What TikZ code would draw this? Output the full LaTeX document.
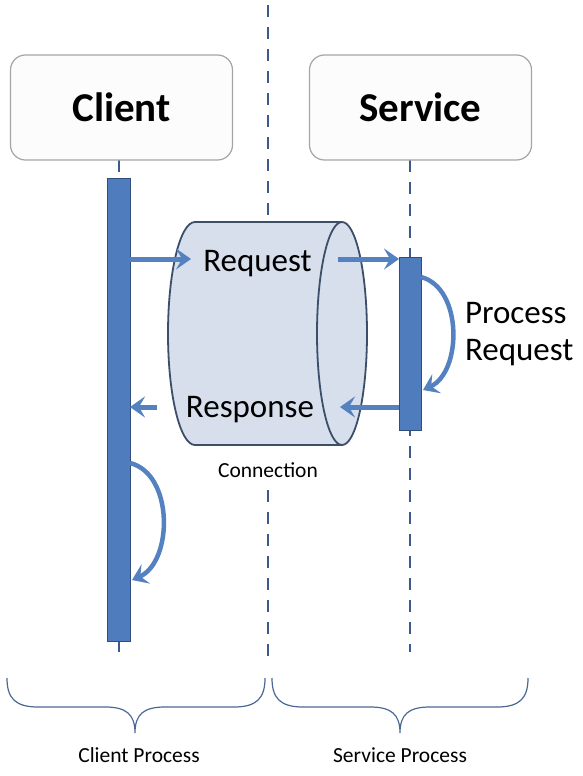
\documentclass[tikz,border=0pt]{standalone}
\usepackage{fontspec}
\setmainfont{Carlito}
\usetikzlibrary{arrows.meta}
\definecolor{barblue}{RGB}{79,124,189}
\definecolor{bardark}{RGB}{47,78,125}
\definecolor{arrblue}{RGB}{84,130,192}
\definecolor{dashblue}{RGB}{60,90,140}
\definecolor{boxgray}{RGB}{165,165,165}
\definecolor{boxfill}{RGB}{252,252,252}
\definecolor{cylfill}{RGB}{214,223,235}
\definecolor{cylline}{RGB}{60,78,105}
\definecolor{bracecol}{RGB}{75,105,150}
\pgfdeclarelayer{bg}
\pgfsetlayers{bg,main}
\begin{document}
\begin{tikzpicture}[x=1pt,y=1pt,
 every node/.style={inner sep=0pt, outer sep=0pt},
 titlebox/.style={draw=boxgray, fill=boxfill, line width=1.2pt, rounded corners=15pt, minimum width=222pt, minimum height=105pt, font=\fontsize{41}{48}\selectfont\bfseries},
 actbar/.style={draw=bardark, fill=barblue, line width=1pt},
 life/.style={draw=dashblue, line width=2pt, dash pattern=on 12pt off 10pt},
 msg/.style={draw=arrblue, line width=5pt, -{Stealth[length=15pt,width=21pt,inset=6pt]}},
 big/.style={font=\fontsize{33}{38}\selectfont},
 small/.style={font=\fontsize{21.5}{25}\selectfont},
 bracestyle/.style={draw=bracecol, line width=1.2pt},
 cylstyle/.style={draw=cylline, fill=cylfill, line width=1.8pt},
]
\begin{pgfonlayer}{bg}
\fill[white] (0,0) rectangle (582,-776);
\end{pgfonlayer}
\useasboundingbox (0,0) rectangle (582,-776);

% header boxes
\node[titlebox] (client) at (121.5,-107.5) {Client};
\node[titlebox] (service) at (420.5,-107.5) {Service};

% activation bars
\node[actbar, minimum width=23pt, minimum height=463pt] (cbar) at (118.5,-409.5) {};
\node[actbar, minimum width=22pt, minimum height=173pt] (sbar) at (410,-343.5) {};

% connection cylinder
\node[minimum width=199pt, minimum height=223pt] (conn) at (267.5,-333.5) {};
\draw[cylstyle] (195,-222) -- (342,-222)
  arc[start angle=90, end angle=-90, x radius=25, y radius=111.5]
  -- (195,-445)
  arc[start angle=270, end angle=90, x radius=27, y radius=111.5] -- cycle;
\draw[draw=cylline, line width=1.8pt] (342,-222) arc[start angle=90, end angle=270, x radius=25, y radius=111.5];

% lifelines
\coordinate (ctop) at (268,-5);
\coordinate (cmid) at (268,-490);
\coordinate (cbot) at (268,-662);
\coordinate (cend) at (118.5,-652);
\coordinate (send) at (410,-652);
\begin{pgfonlayer}{bg}
\draw[life] (ctop) -- (ctop |- conn.north);
\draw[life] (cmid) -- (cbot);
\draw[life] (client.south -| cbar.north) -- (cbar.north);
\draw[life] (cbar.south) -- (cend);
\draw[life] (service.south -| sbar.north) -- (send);
\end{pgfonlayer}

% texts
\node[big, anchor=base] (req) at (257.5,-271) {Request};
\node[big, anchor=base] (resp) at (250,-417) {Response};
\node[big, anchor=base west] (proc1) at (465,-323) {Process};
\node[big, anchor=base west] (proc2) at (465,-360) {Request};
\node[small, anchor=base] (connlbl) at (268,-477) {Connection};
\node[small, anchor=base] (cproc) at (139,-762) {Client Process};
\node[small, anchor=base] (sproc) at (400,-762) {Service Process};

% message arrows
\coordinate (q1) at (191,-259);
\coordinate (q2) at (338,-259);
\coordinate (r1) at (157,-407);
\coordinate (r2) at (340,-407);
\draw[msg] (cbar.east |- q1) -- (q1);
\draw[msg] (q2) -- (sbar.west |- q2);
\draw[msg] (r1) -- (cbar.east |- r1);
\draw[msg] (sbar.west |- r2) -- (r2);

% self arrows
\coordinate (s1) at (421,-277);
\coordinate (s2) at (423,-390);
\draw[msg, line width=4.5pt] (sbar.east |- s1) .. controls (463,-288) and (462,-372) .. (s2);
\coordinate (c1) at (130,-463);
\coordinate (c2) at (132,-580);
\draw[msg, line width=4.5pt] (cbar.east |- c1) .. controls (174,-474) and (173,-562) .. (c2);

% braces
\draw[bracestyle] (7,-678) .. controls (7,-698) and (15,-707) .. (38,-707) -- (105,-707)
  .. controls (126,-707) and (135,-714) .. (135,-733)
  .. controls (135,-714) and (144,-707) .. (165,-707) -- (234,-707)
  .. controls (257,-707) and (265,-698) .. (265,-678);
\draw[bracestyle] (272,-678) .. controls (272,-698) and (280,-707) .. (303,-707) -- (370,-707)
  .. controls (391,-707) and (400,-714) .. (400,-733)
  .. controls (400,-714) and (409,-707) .. (430,-707) -- (497,-707)
  .. controls (520,-707) and (528,-698) .. (528,-678);
\end{tikzpicture}
\end{document}
